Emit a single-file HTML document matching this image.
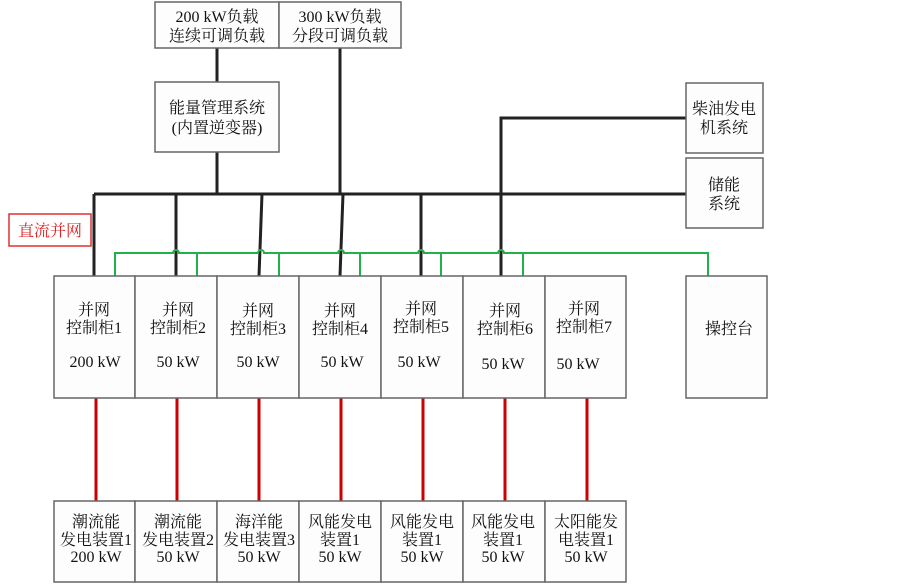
<!DOCTYPE html>
<html><head><meta charset="utf-8"><style>
html,body{margin:0;padding:0;background:#fff;}
svg{display:block;}
text{font-family:"Liberation Serif","Noto Serif CJK SC","Noto Sans CJK SC",serif;font-size:16px;fill:#111;text-anchor:middle;}
.b{fill:#fdfdfd;stroke:#666;stroke-width:1.5;}
</style></head><body>
<svg width="903" height="585" viewBox="0 0 903 585" xmlns="http://www.w3.org/2000/svg">
<g stroke="#222" stroke-width="3" fill="none">
<line x1="217" y1="48" x2="217" y2="82"/>
<line x1="217" y1="152" x2="217" y2="194"/>
<line x1="340" y1="48" x2="340" y2="194"/>
<line x1="94" y1="194" x2="686" y2="194"/>
<polyline points="501,276 501,118 686,118"/>
<line x1="94" y1="194" x2="94" y2="276"/>
<line x1="176" y1="194" x2="176" y2="276"/>
<line x1="262" y1="194" x2="259" y2="276"/>
<line x1="343" y1="194" x2="340" y2="276"/>
<line x1="421" y1="194" x2="421" y2="276"/>
</g>
<g stroke="#22b04a" stroke-width="2" fill="none">
<path d="M115,276 V253 H173 a3,3 0 0 1 6,0 H258 a3,3 0 0 1 6,0 H338 a3,3 0 0 1 6,0 H418 a3,3 0 0 1 6,0 H498 a3,3 0 0 1 6,0 H708 V276"/>
<line x1="197" y1="253" x2="197" y2="276"/>
<line x1="279" y1="253" x2="279" y2="276"/>
<line x1="360" y1="253" x2="360" y2="276"/>
<line x1="441" y1="253" x2="441" y2="276"/>
<line x1="523" y1="253" x2="523" y2="276"/>
</g>
<g stroke="#cc0000" stroke-width="3">
<line x1="96" y1="398" x2="96" y2="501"/>
<line x1="177" y1="398" x2="177" y2="501"/>
<line x1="259" y1="398" x2="259" y2="501"/>
<line x1="341" y1="398" x2="341" y2="501"/>
<line x1="423" y1="398" x2="423" y2="501"/>
<line x1="505" y1="398" x2="505" y2="501"/>
<line x1="587" y1="398" x2="587" y2="501"/>
</g>
<rect class="b" x="155" y="2" width="124" height="46"/>
<rect class="b" x="279" y="2" width="122" height="46"/>
<text x="217" y="22">200 kW负载</text><text x="217" y="41">连续可调负载</text>
<text x="340" y="22">300 kW负载</text><text x="340" y="41">分段可调负载</text>
<rect class="b" x="155" y="82" width="124" height="70"/>
<text x="217" y="113">能量管理系统</text><text x="217" y="133">(内置逆变器)</text>
<rect class="b" x="686" y="83" width="77" height="70"/>
<text x="724" y="114">柴油发电</text><text x="724" y="133">机系统</text>
<rect class="b" x="686" y="158" width="77" height="70"/>
<text x="724" y="190">储能</text><text x="724" y="209">系统</text>
<rect x="9" y="214" width="82" height="32" fill="#fff" stroke="#e03030" stroke-width="1.5"/>
<text x="50" y="236" style="fill:#e02020;font-size:16px">直流并网</text>
<g>
<rect class="b" x="54" y="276" width="81" height="122"/>
<rect class="b" x="135" y="276" width="82" height="122"/>
<rect class="b" x="217" y="276" width="82" height="122"/>
<rect class="b" x="299" y="276" width="82" height="122"/>
<rect class="b" x="381" y="276" width="82" height="122"/>
<rect class="b" x="463" y="276" width="82" height="122"/>
<rect class="b" x="545" y="276" width="81" height="122"/>
<rect class="b" x="686" y="276" width="81" height="122"/>
</g>
<g>
<text x="94" y="315">并网</text><text x="94" y="333">控制柜1</text><text x="95" y="367">200 kW</text>
<text x="178" y="315">并网</text><text x="178" y="333">控制柜2</text><text x="178" y="367">50 kW</text>
<text x="258" y="316">并网</text><text x="258" y="334">控制柜3</text><text x="258" y="367">50 kW</text>
<text x="340" y="316">并网</text><text x="340" y="334">控制柜4</text><text x="342" y="367">50 kW</text>
<text x="421" y="314">并网</text><text x="421" y="332">控制柜5</text><text x="419" y="367">50 kW</text>
<text x="505" y="316">并网</text><text x="505" y="334">控制柜6</text><text x="503" y="369">50 kW</text>
<text x="584" y="314">并网</text><text x="584" y="332">控制柜7</text><text x="578" y="369">50 kW</text>
<text x="729" y="334">操控台</text>
</g>
<g>
<rect class="b" x="54" y="501" width="81" height="81"/>
<rect class="b" x="135" y="501" width="82" height="81"/>
<rect class="b" x="217" y="501" width="82" height="81"/>
<rect class="b" x="299" y="501" width="82" height="81"/>
<rect class="b" x="381" y="501" width="82" height="81"/>
<rect class="b" x="463" y="501" width="82" height="81"/>
<rect class="b" x="545" y="501" width="81" height="81"/>
</g>
<g>
<text x="96" y="527">潮流能</text><text x="96" y="545">发电装置1</text><text x="96" y="562">200 kW</text>
<text x="178" y="527">潮流能</text><text x="178" y="545">发电装置2</text><text x="178" y="562">50 kW</text>
<text x="259" y="527">海洋能</text><text x="259" y="545">发电装置3</text><text x="259" y="562">50 kW</text>
<text x="340" y="527">风能发电</text><text x="340" y="545">装置1</text><text x="340" y="562">50 kW</text>
<text x="422" y="527">风能发电</text><text x="422" y="545">装置1</text><text x="422" y="562">50 kW</text>
<text x="503" y="527">风能发电</text><text x="503" y="545">装置1</text><text x="503" y="562">50 kW</text>
<text x="586" y="527">太阳能发</text><text x="586" y="545">电装置1</text><text x="586" y="562">50 kW</text>
</g>
</svg>
</body></html>
